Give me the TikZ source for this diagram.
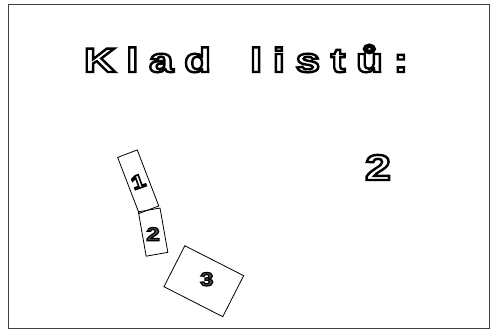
\documentclass[tikz,border=0pt]{standalone}
\usepackage{fontspec}
\setmainfont{Liberation Sans}
\newfontfamily\widefont[FakeStretch=1.3, LetterSpace=31]{Liberation Sans Bold}
\newfontfamily\numfont[FakeStretch=1.3]{Liberation Sans Bold}
\usetikzlibrary{positioning}
\tikzset{
    frame/.style={draw=black!75, line width=0.9pt},
    sheet/.style={draw, line width=0.8pt, inner sep=0pt},
    title/.style={font=\widefont\fontsize{34}{34}\selectfont, inner sep=0pt, anchor=base},
    bignum/.style={font=\numfont\fontsize{36}{36}\selectfont, inner sep=0pt, anchor=base},
    sheetnum/.style={font=\numfont\fontsize{19}{19}\selectfont, inner sep=0pt}
}
% stroked glyphs: 1 Tr = outline only, 2 Tr = fill and outline
\newcommand{\hollow}[2][2.4]{\special{pdf:literal direct 1 Tr #1 w}#2\special{pdf:literal direct 0 Tr}}
\newcommand{\dark}[1]{\textcolor{black!70}{\special{pdf:literal direct 2 Tr 0 G 1.2 w}#1\special{pdf:literal direct 0 Tr}}}

\begin{document}
\begin{tikzpicture}[x=1pt, y=-1pt]
    \useasboundingbox (0,0) rectangle (490,331);
    \draw[frame] (8,4) rectangle (489,328);

    \coordinate (T) at (246,72);
    \coordinate (N) at (378,180);
    \coordinate (C1) at (138.2,181.7);
    \coordinate (C2) at (153.1,232.1);
    \coordinate (C3) at (203.8,281.2);

    \node[title] (title) at (T) {\hollow{Klad\hspace{16pt} listů:}};
    \node[bignum] (count) at (N) {\hollow{2}};

    \node[sheet, minimum width=21pt, minimum height=60pt, rotate=21] (sheet1) at (C1) {};
    \node[sheet, minimum width=22pt, minimum height=45pt, rotate=10] (sheet2) at (C2) {};
    \node[sheet, minimum width=66pt, minimum height=46pt, rotate=-27] (sheet3) at (C3) {};

    \node[sheetnum, rotate=20] (num1) at (sheet1.center) {\hollow[1.6]{1}};
    \node[sheetnum] (num2) at ([yshift=-2pt]sheet2.center) {\dark{2}};
    \node[sheetnum] (num3) at ([xshift=3pt,yshift=2pt]sheet3.center) {\dark{3}};
\end{tikzpicture}
\end{document}
